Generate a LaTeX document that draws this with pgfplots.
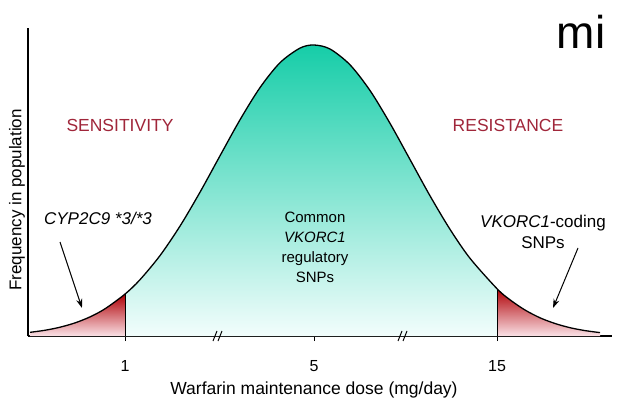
\documentclass[border=0pt]{standalone}
\usepackage{pgfplots}
\pgfplotsset{compat=1.18}
\usepackage{fontspec}
\setmainfont{Liberation Sans}
\usetikzlibrary{arrows.meta}
\definecolor{tealtop}{RGB}{22,205,168}
\definecolor{tealmid}{RGB}{88,222,200}
\definecolor{tealbot}{RGB}{242,253,252}
\definecolor{redtop}{RGB}{175,0,5}
\definecolor{redmid}{RGB}{205,60,70}
\definecolor{redbot}{RGB}{250,225,230}
\definecolor{labred}{RGB}{160,38,58}
\begin{document}
\begin{tikzpicture}
\begin{axis}[
  width=584pt, height=308pt, scale only axis,
  xmin=28, xmax=612, ymin=0, ymax=308,
  axis lines=left,
  axis line style={-, line width=1.2pt},
  xtick={125,314,497}, xticklabels={1,5,15},
  ytick=\empty,
  tick align=outside, major tick length=5pt,
  every tick/.style={black, line width=1pt},
  /pgf/number format/assume math mode=true,
  xticklabel style={font=\fontsize{16}{18}\selectfont, yshift=-16pt},
  xlabel={Warfarin maintenance dose (mg/day)},
  ylabel={Frequency in population},
  every axis x label/.style={at={(axis description cs:0.4897,-0.175)}, anchor=center, font=\fontsize{17.5}{20}\selectfont},
  every axis y label/.style={at={(axis description cs:-0.0188,0.4416)}, anchor=center, rotate=90, font=\fontsize{17}{20}\selectfont},
  clip=false,
]
% left tail (sensitivity)
\addplot[draw=none, top color=redtop, middle color=redmid, bottom color=redbot, smooth] coordinates {
(30,3.66)(45,5.74)(60,8.79)(75,13.1)(90,19.1)(105,27.2)(125,41.9)
} \closedcycle;
% main body
\addplot[draw=none, top color=tealtop, middle color=tealmid, bottom color=tealbot, smooth] coordinates {
(125,41.9)(140,56.3)(160,80.4)(180,109.9)(200,143.8)(220,180.2)(240,216.2)(260,248.4)(280,273.3)(300,287.9)(314,291)(330,287.0)(350,271.2)(370,245.5)(390,212.7)(410,176.5)(430,140.2)(450,106.7)(470,77.7)(497,47.3)
} \closedcycle;
% right tail (resistance)
\addplot[draw=none, top color=redtop, middle color=redmid, bottom color=redbot, smooth] coordinates {
(497,47.3)(510,36.2)(525,26.0)(540,18.2)(555,12.5)(570,8.3)(585,5.4)(600,3.4)
} \closedcycle;
% outline
\addplot[black, line width=1.3pt, smooth] coordinates {
(30,3.66)(45,5.74)(60,8.79)(75,13.1)(90,19.1)(105,27.2)(125,41.9)(140,56.3)(160,80.4)(180,109.9)(200,143.8)(220,180.2)(240,216.2)(260,248.4)(280,273.3)(300,287.9)(314,291)(330,287.0)(350,271.2)(370,245.5)(390,212.7)(410,176.5)(430,140.2)(450,106.7)(470,77.7)(497,47.3)(510,36.2)(525,26.0)(540,18.2)(555,12.5)(570,8.3)(585,5.4)(600,3.4)
};
\addplot[black, line width=1pt] coordinates {(125,0)(125,41.9)};
\addplot[black, line width=1pt] coordinates {(497,0)(497,47.3)};
% axis breaks
\draw[line width=1pt] (axis cs:213,-5) -- (axis cs:217,5);
\draw[line width=1pt] (axis cs:218,-5) -- (axis cs:222,5);
\draw[line width=1pt] (axis cs:398,-5) -- (axis cs:402,5);
\draw[line width=1pt] (axis cs:403,-5) -- (axis cs:407,5);
% annotations
\node[text=labred, font=\fontsize{17.5}{20}\selectfont] at (axis cs:120,211) {SENSITIVITY};
\node[text=labred, font=\fontsize{17.5}{20}\selectfont] at (axis cs:508,211) {RESISTANCE};
\node[font=\fontsize{17}{20}\selectfont\itshape] at (axis cs:98,118) {CYP2C9 *3/*3};
\node[align=center, font=\fontsize{17}{21}\selectfont] at (axis cs:543,104) {\textit{VKORC1}-coding\\SNPs};
\node[align=center, font=\fontsize{15}{20}\selectfont] at (axis cs:315,89) {Common\\\textit{VKORC1}\\regulatory\\SNPs};
\draw[-{Stealth[length=9pt,width=6pt]}, line width=1pt] (axis cs:60,94) -- (axis cs:82,28);
\draw[-{Stealth[length=9pt,width=6pt]}, line width=1pt] (axis cs:578,88) -- (axis cs:553,28);
\node[anchor=base, font=\fontsize{46}{50}\selectfont] at (axis cs:581,287) {mi};
\coordinate (BL) at (axis cs:0,-71);
\coordinate (TR) at (axis cs:619,336);
\end{axis}
\pgfresetboundingbox
\path (BL) rectangle (TR);
\end{tikzpicture}
\end{document}
